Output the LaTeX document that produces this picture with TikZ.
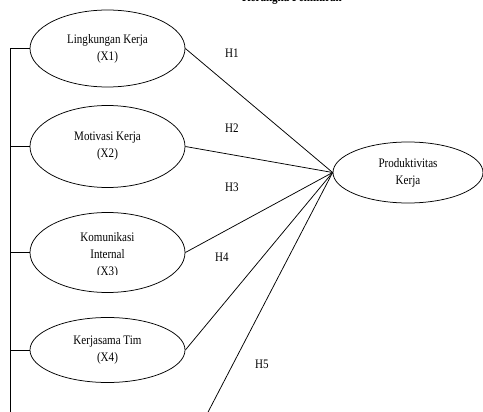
\documentclass[tikz,border=0pt]{standalone}
\usepackage{fontspec}
\setmainfont{Liberation Serif}[FakeStretch=0.85]
\usetikzlibrary{shapes.geometric}
\begin{document}
\begin{tikzpicture}[x=1pt,y=-1pt,
  var/.style={draw, ellipse, line width=0.75pt, inner sep=0pt, minimum width=155pt, align=center, font=\fontsize{13}{17}\selectfont},
  lbl/.style={font=\fontsize{13}{17}\selectfont, inner sep=0pt},
  conn/.style={line width=0.75pt}]
\useasboundingbox (0,0) rectangle (483,412);
\node[anchor=base, font=\bfseries\fontsize{13}{17}\selectfont, inner sep=0pt] (title) at (292,1.5) {Kerangka Pemikiran};
\node[var, minimum height=77pt] (x1) at (107.5,48.5) {Lingkungan Kerja\\(X1)};
\node[var, minimum height=82pt] (x2) at (107.5,146.5) {Motivasi Kerja\\(X2)};
\node[var, minimum height=80pt] (x3) at (107.5,252.5) {};
\begin{scope}
  \clip (60,225) rectangle (155,275);
  \node[lbl, align=center] (x3t) at (107.5,255) {Komunikasi\\Internal\\(X3)};
\end{scope}
\node[var, minimum height=65pt] (x4) at (107.5,350) {Kerjasama Tim\\(X4)};
\node[var, minimum width=150pt, minimum height=61pt] (y) at (408,172.5) {Produktivitas\\Kerja};
\coordinate (lbot) at (10,412);
\coordinate (x5end) at (206,416);
\draw[conn] (x1.east) -- (y.west);
\draw[conn] (x2.east) -- (y.west);
\draw[conn] (x3.east) -- (y.west);
\draw[conn] (x4.east) -- (y.west);
\draw[conn] (y.west) -- (x5end);
\draw[conn] (x1.west) -| (lbot);
\draw[conn] (x2.west) -- (x2.west -| lbot);
\draw[conn] (x3.west) -- (x3.west -| lbot);
\draw[conn] (x4.west) -- (x4.west -| lbot);
\node[lbl] (h1) at (232,53) {H1};
\node[lbl] (h2) at (232,128) {H2};
\node[lbl] (h3) at (232,187) {H3};
\node[lbl] (h4) at (222,257) {H4};
\node[lbl] (h5) at (262,364) {H5};
\end{tikzpicture}
\end{document}
